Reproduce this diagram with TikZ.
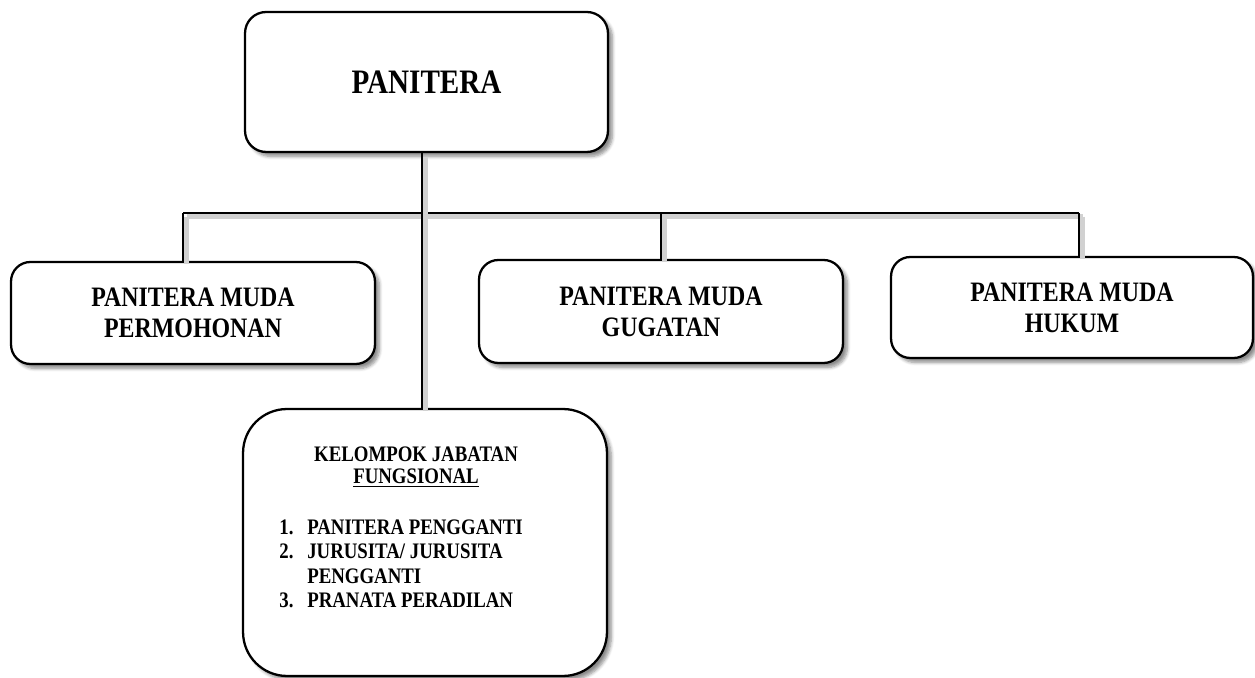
\documentclass[tikz,border=0pt]{standalone}
\usepackage{fontspec}
\setmainfont{Liberation Serif}[FakeStretch=0.85]
\usetikzlibrary{shadows.blur}
\newcommand{\itemnum}[1]{\makebox[15.9pt][l]{#1}}

\begin{document}
\begin{tikzpicture}[
    x=0.02cm, y=-0.02cm,
    unit/.style={rectangle, draw=black, line width=1.3pt, fill=white, align=center,
        blur shadow={shadow xshift=2.5pt, shadow yshift=-2.5pt, shadow blur steps=6, shadow opacity=45}},
    mudabox/.style={unit, rounded corners=11pt, minimum width=7.28cm, minimum height=2.04cm, font=\fontsize{16}{17.5}\selectfont\bfseries},
    conn/.style={line width=1.4pt, preaction={draw=black!18, line width=3pt, transform canvas={shift={(2pt,-2pt)}}}}
]
\useasboundingbox (0,0) rectangle (1255,678);

% Head
\node[unit, rounded corners=12pt, minimum width=7.26cm, minimum height=2.8cm, font=\fontsize{19.5}{22}\selectfont\bfseries] (panitera) at (426.5,82) {PANITERA};

% Panitera muda
\node[mudabox] (permohonan) at (193,313) {PANITERA MUDA\\PERMOHONAN};
\node[mudabox, minimum height=2.06cm] (gugatan) at (661,311.5) {PANITERA MUDA\\GUGATAN};
\node[mudabox, minimum width=7.24cm, minimum height=2.02cm] (hukum) at (1072,307.5) {PANITERA MUDA\\HUKUM};

% Jabatan fungsional
\node[unit, rounded corners=25pt, minimum width=7.28cm, minimum height=5.34cm] (fungsional) at (425,542.5) {};
\node[inner sep=0pt, align=center, font=\fontsize{12.6}{12.8}\selectfont\bfseries] (fungsihead) at (416,467) {KELOMPOK JABATAN\\\underline{FUNGSIONAL}};
\node[inner sep=0pt, anchor=west, align=left, font=\fontsize{12.6}{13.9}\selectfont\bfseries] (fungsilist) at (279,564) {%
    \itemnum{1.}PANITERA PENGGANTI\\
    \itemnum{2.}JURUSITA/ JURUSITA\\
    \itemnum{}PENGGANTI\\
    \itemnum{3.}PRANATA PERADILAN};

% Lines
\coordinate (bus) at (422,213);
\coordinate (busL) at (183,213);
\coordinate (busR) at (1079,213);
\draw[conn] (busL) -- (busR);
\draw[conn] (panitera.south -| bus) -- (fungsional.north -| bus);
\draw[conn] (busL) -- (permohonan.north -| busL);
\draw[conn] (bus -| gugatan) -- (gugatan.north);
\draw[conn] (busR) -- (hukum.north -| busR);

\end{tikzpicture}
\end{document}
